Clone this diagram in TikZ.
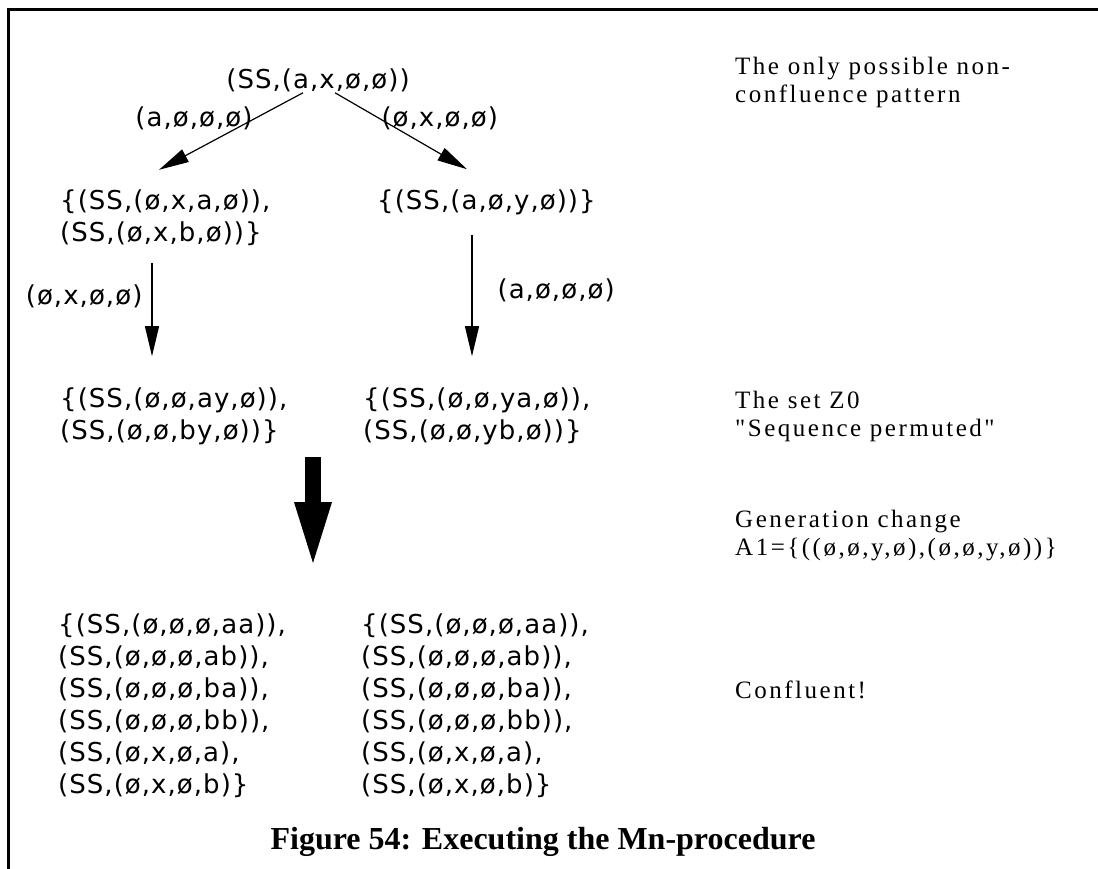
\documentclass[tikz,border=0pt]{standalone}
\usepackage{fontspec}
\setmainfont{Liberation Serif}
\newfontfamily\exprfont[LetterSpace=4]{DejaVu Sans}
\newfontfamily\notefont[LetterSpace=10]{Liberation Serif}
\usetikzlibrary{arrows.meta,positioning}

\begin{document}
\begin{tikzpicture}[x=1pt, y=-1pt,
  expr/.style={inner sep=0pt, anchor=west, align=left, font=\exprfont\fontsize{26}{32}\selectfont},
  lbl/.style={inner sep=0pt, font=\exprfont\fontsize{26}{32}\selectfont},
  note/.style={inner sep=0pt, anchor=west, align=left, font=\notefont\fontsize{25}{28}\selectfont},
  arr/.style={-{Triangle[length=30pt,width=14pt]}, line width=1.2pt},
  bigarr/.style={-{Triangle[length=70pt,width=32pt]}, line width=16pt}]
  \useasboundingbox (0,0) rectangle (1098,869);
  % frame
  \draw[line width=3pt] (1098,9.5) -- (8.5,9.5) -- (8.5,869);

  % states
  \node[lbl] (top) at (318,80) {(SS,(a,x,ø,ø))};
  \node[expr] (lt) at (60,218) {\{(SS,(ø,x,a,ø)),\\(SS,(ø,x,b,ø))\}};
  \node[expr] (rt) at (377,202) {\{(SS,(a,ø,y,ø))\}};
  \node[expr] (lm) at (60,416) {\{(SS,(ø,ø,ay,ø)),\\(SS,(ø,ø,by,ø))\}};
  \node[expr] (rm) at (363,416) {\{(SS,(ø,ø,ya,ø)),\\(SS,(ø,ø,yb,ø))\}};
  \node[expr] (lb) at (58,706) {\{(SS,(ø,ø,ø,aa)),\\(SS,(ø,ø,ø,ab)),\\(SS,(ø,ø,ø,ba)),\\(SS,(ø,ø,ø,bb)),\\(SS,(ø,x,ø,a),\\(SS,(ø,x,ø,b)\}};
  \node[expr] (rb) at (361,706) {\{(SS,(ø,ø,ø,aa)),\\(SS,(ø,ø,ø,ab)),\\(SS,(ø,ø,ø,ba)),\\(SS,(ø,ø,ø,bb)),\\(SS,(ø,x,ø,a),\\(SS,(ø,x,ø,b)\}};

  % transitions
  \draw[arr] ([xshift=-15pt,yshift=-1pt]top.south) -- node[pos=0.333, left=2pt, lbl]{(a,ø,ø,ø)} ([xshift=99pt,yshift=20pt]lt.north west);
  \draw[arr] ([xshift=17pt,yshift=-1pt]top.south) -- node[pos=0.333, right=2pt, lbl]{(ø,x,ø,ø)} ([xshift=90pt,yshift=20pt]rt.north west);
  \draw[arr] ([xshift=92pt,yshift=-17pt]lt.south west) -- node[pos=0.354, left=9pt, lbl]{(ø,x,ø,ø)} ([xshift=92pt,yshift=31pt]lm.north west);
  \draw[arr] ([xshift=95pt,yshift=-20pt]rt.south west) -- node[pos=0.456, right=25pt, lbl]{(a,ø,ø,ø)} ([xshift=109pt,yshift=31pt]rm.north west);

  % generation change
  \coordinate (gentop) at (313,457);
  \coordinate (genbot) at (313,572);
  \draw[bigarr] (gentop) -- (genbot);

  % remarks
  \node[note] (n1) at (735,82) {The only possible non-\\confluence pattern};
  \node[note] (n2) at (735,416) {The set Z0\\"Sequence permuted"};
  \node[note] (n3) at (735,536) {Generation change\\A1=\{((ø,ø,y,ø),(ø,ø,y,ø))\}};
  \node[note] (n4) at (735,690) {Confluent!};

  \node[font=\bfseries\fontsize{32}{36}\selectfont] (cap) at (543,842) {Figure 54: Executing the Mn-procedure};
\end{tikzpicture}
\end{document}
